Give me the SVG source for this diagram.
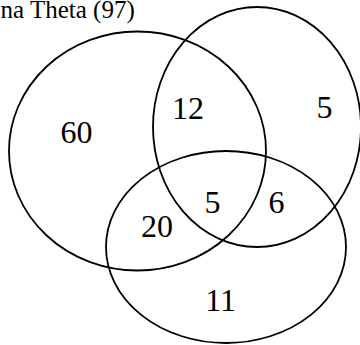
<svg xmlns="http://www.w3.org/2000/svg" width="360" height="345" viewBox="0 0 360 345">
<style>
.set{fill:none;stroke:#000;stroke-width:1.8}
.lbl{font-size:32px;fill:#000;text-anchor:middle}
.ttl{font-size:25px;fill:#000}
</style>
<rect width="360" height="345" fill="#fff"/>
<text class="ttl" font-family="Liberation Serif, DejaVu Serif, serif" x="0.5" y="17.5">na Theta (97)</text>
<g id="sets">
<ellipse id="setA" class="set" cx="137.5" cy="151" rx="128.5" ry="119.5"/>
<ellipse id="setB" class="set" cx="257" cy="127" rx="104" ry="120"/>
<ellipse id="setC" class="set" cx="226" cy="247" rx="120" ry="96"/>
</g>
<g id="labels" font-family="Liberation Serif, DejaVu Serif, serif">
<text class="lbl" x="76.5" y="143">60</text>
<text class="lbl" x="188" y="118.5">12</text>
<text class="lbl" x="324.5" y="117.5">5</text>
<text class="lbl" x="212.5" y="213.3">5</text>
<text class="lbl" x="276.5" y="213">6</text>
<text class="lbl" x="157" y="237.3">20</text>
<text class="lbl" x="220.7" y="310.7">11</text>
</g>
</svg>
